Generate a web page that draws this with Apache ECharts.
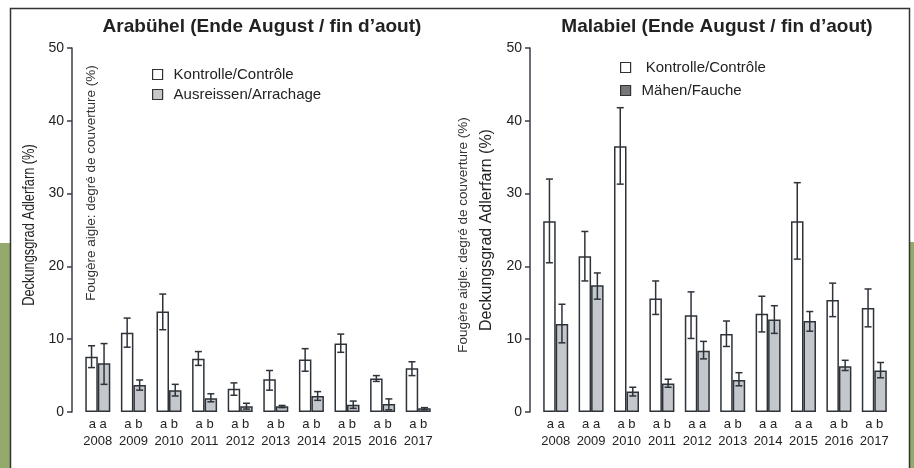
<!DOCTYPE html>
<html>
<head>
<meta charset="utf-8">
<script src="https://cdn.jsdelivr.net/npm/echarts@6/dist/echarts.min.js"></script>
<style>
  html, body { margin: 0; padding: 0; background: #fff; }
  #root { width: 914px; height: 468px; }
</style>
</head>
<body>
<div id="root"></div>
<script>
var years = ['2008', '2009', '2010', '2011', '2012', '2013', '2014', '2015', '2016', '2017']

// Arabühel
var arabLetters = ['a a', 'a b', 'a b', 'a b', 'a b', 'a b', 'a b', 'a b', 'a b', 'a b']
var arabCtrl = [7.6, 10.9, 13.8, 7.3, 3.2, 4.5, 7.2, 9.4, 4.6, 6.0]
var arabCtrlLo = [6.1, 8.9, 11.3, 6.4, 2.3, 3.0, 5.6, 8.2, 4.2, 5.0]
var arabCtrlHi = [9.1, 12.9, 16.2, 8.3, 4.0, 5.7, 8.7, 10.7, 5.0, 6.9]
var arabTrt = [6.7, 3.7, 3.0, 1.9, 0.8, 0.8, 2.2, 1.0, 1.1, 0.5]
var arabTrtLo = [3.8, 3.0, 2.2, 1.4, 0.4, 0.6, 1.6, 0.5, 0.3, 0.3]
var arabTrtHi = [9.4, 4.4, 3.8, 2.5, 1.2, 0.9, 2.8, 1.5, 1.8, 0.6]

// Malabiel
var malaLetters = ['a a', 'a a', 'a b', 'a b', 'a a', 'a b', 'a a', 'a a', 'a b', 'a b']
var malaCtrl = [26.2, 21.4, 36.5, 15.6, 13.3, 10.7, 13.5, 26.2, 15.4, 14.3]
var malaCtrlLo = [20.5, 18.0, 31.3, 13.4, 10.1, 9.0, 11.0, 21.0, 13.1, 11.7]
var malaCtrlHi = [32.0, 24.8, 41.8, 18.0, 16.5, 12.5, 15.9, 31.5, 17.7, 16.9]
var malaTrt = [12.1, 17.4, 2.8, 3.9, 8.4, 4.4, 12.7, 12.5, 6.3, 5.7]
var malaTrtLo = [9.5, 15.5, 2.2, 3.4, 7.3, 3.6, 10.8, 11.1, 5.7, 4.7]
var malaTrtHi = [14.8, 19.1, 3.4, 4.5, 9.7, 5.4, 14.6, 13.8, 7.1, 6.8]

var ink = '#2e333a'
var grey = '#c4c7cb'
var font = 'Liberation Sans, Arial, sans-serif'
var barW = 12.5

function errSeries(idx, lo, hi, side) {
  return {
    type: 'custom',
    xAxisIndex: idx,
    yAxisIndex: idx,
    silent: true,
    z: 5,
    data: years.map(function (y, i) { return [i, lo[i], hi[i]] }),
    renderItem: function (params, api) {
      var a = api.coord([api.value(0), api.value(1)])
      var b = api.coord([api.value(0), api.value(2)])
      var x = a[0] + side * barW / 2
      var st = { stroke: ink, lineWidth: 1.5 }
      return {
        type: 'group',
        children: [
          { type: 'line', shape: { x1: x, y1: a[1], x2: x, y2: b[1] }, style: st },
          { type: 'line', shape: { x1: x - 3.5, y1: a[1], x2: x + 3.5, y2: a[1] }, style: st },
          { type: 'line', shape: { x1: x - 3.5, y1: b[1], x2: x + 3.5, y2: b[1] }, style: st }
        ]
      }
    }
  }
}

function barSeries(idx, name, data, fill) {
  return {
    type: 'bar',
    name: name,
    xAxisIndex: idx,
    yAxisIndex: idx,
    data: data,
    barWidth: barW,
    barGap: '0%',
    itemStyle: { color: fill, borderColor: ink, borderWidth: 1.5 }
  }
}

function xAxis(idx, letters) {
  return {
    type: 'category',
    gridIndex: idx,
    data: years,
    axisLine: { show: false },
    axisTick: { show: false },
    axisLabel: {
      margin: 4,
      interval: 0,
      formatter: function (v, i) { return '{l|' + letters[i] + '}\n{y|' + v + '}' },
      rich: {
        l: { fontFamily: font, fontSize: 13, color: '#222', lineHeight: 17 },
        y: { fontFamily: font, fontSize: 13, color: '#222', lineHeight: 17 }
      }
    }
  }
}

function yAxis(idx) {
  return {
    type: 'value',
    gridIndex: idx,
    min: 0,
    max: 50,
    interval: 10,
    offset: 8,
    splitLine: { show: false },
    axisLine: { show: true, lineStyle: { color: '#3a3f47', width: 1.5 } },
    axisTick: { show: true, length: 5, lineStyle: { color: '#3a3f47', width: 1.5 } },
    axisLabel: { fontFamily: font, fontSize: 14, color: '#222', margin: 8 }
  }
}

var chart = echarts.init(document.getElementById('root'))

var option = {
  backgroundColor: '#fff',
  animation: false,
  title: [
    { text: 'Arabühel (Ende August / fin d’aout)', left: 257, top: 12, textAlign: 'center',
      textStyle: { fontFamily: font, fontSize: 19, fontWeight: 'bold', color: '#222' } },
    { text: 'Malabiel (Ende August / fin d’aout)', left: 712, top: 12, textAlign: 'center',
      textStyle: { fontFamily: font, fontSize: 19, fontWeight: 'bold', color: '#222' } }
  ],
  legend: [
    { orient: 'vertical', left: 147, top: 62, itemWidth: 10, itemHeight: 10, itemGap: 5,
      icon: 'rect', selectedMode: false,
      data: [
        { name: 'Kontrolle/Contrôle', itemStyle: { color: '#fff', borderColor: ink, borderWidth: 1.2 } },
        { name: 'Ausreissen/Arrachage', itemStyle: { color: '#c8c8c8', borderColor: ink, borderWidth: 1.2 } }
      ],
      textStyle: { fontFamily: font, fontSize: 15, color: '#222', padding: [0, 0, 0, 6] } },
    { orient: 'vertical', left: 615, top: 55, itemWidth: 10, itemHeight: 10, itemGap: 8,
      icon: 'rect', selectedMode: false,
      data: [
        { name: ' Kontrolle/Contrôle', itemStyle: { color: '#fff', borderColor: ink, borderWidth: 1.2 } },
        { name: 'Mähen/Fauche', itemStyle: { color: '#777', borderColor: ink, borderWidth: 1.2 } }
      ],
      textStyle: { fontFamily: font, fontSize: 15, color: '#222', padding: [0, 0, 0, 6] } }
  ],
  grid: [
    { left: 80, right: 478, top: 48, bottom: 56 },
    { left: 538, right: 22, top: 48, bottom: 56 }
  ],
  xAxis: [xAxis(0, arabLetters), xAxis(1, malaLetters)],
  yAxis: [yAxis(0), yAxis(1)],
  graphic: [
    { type: 'rect', shape: { x: 0, y: 243, width: 10, height: 225 }, style: { fill: '#94a96c' } },
    { type: 'rect', shape: { x: 910, y: 242, width: 4, height: 226 }, style: { fill: '#94a96c' } },
    { type: 'polyline', shape: { points: [[10.5, 468], [10.5, 8.5], [909.5, 8.5], [909.5, 468]] },
      style: { stroke: '#333', lineWidth: 1.5, fill: null } },
    { type: 'text', x: 30, y: 225, rotation: Math.PI / 2, scaleX: 0.8,
      style: { text: 'Deckungsgrad Adlerfarn (%)', fontFamily: font, fontSize: 16, fill: '#222',
        align: 'center', verticalAlign: 'middle' } },
    { type: 'text', x: 91, y: 183, rotation: Math.PI / 2,
      style: { text: 'Fougère aigle: degré de couverture (%)', fontFamily: font, fontSize: 13.5, fill: '#333',
        align: 'center', verticalAlign: 'middle' } },
    { type: 'text', x: 463, y: 235, rotation: Math.PI / 2,
      style: { text: 'Fougère aigle: degré de couverture (%)', fontFamily: font, fontSize: 13.5, fill: '#333',
        align: 'center', verticalAlign: 'middle' } },
    { type: 'text', x: 487, y: 230, rotation: Math.PI / 2,
      style: { text: 'Deckungsgrad Adlerfarn (%)', fontFamily: font, fontSize: 16, fill: '#222',
        align: 'center', verticalAlign: 'middle' } }
  ],
  series: [
    barSeries(0, 'Kontrolle/Contrôle', arabCtrl, '#fff'),
    barSeries(0, 'Ausreissen/Arrachage', arabTrt, grey),
    errSeries(0, arabCtrlLo, arabCtrlHi, -1),
    errSeries(0, arabTrtLo, arabTrtHi, 1),
    barSeries(1, ' Kontrolle/Contrôle', malaCtrl, '#fff'),
    barSeries(1, 'Mähen/Fauche', malaTrt, grey),
    errSeries(1, malaCtrlLo, malaCtrlHi, -1),
    errSeries(1, malaTrtLo, malaTrtHi, 1)
  ]
}

chart.setOption(option)
</script>
</body>
</html>
